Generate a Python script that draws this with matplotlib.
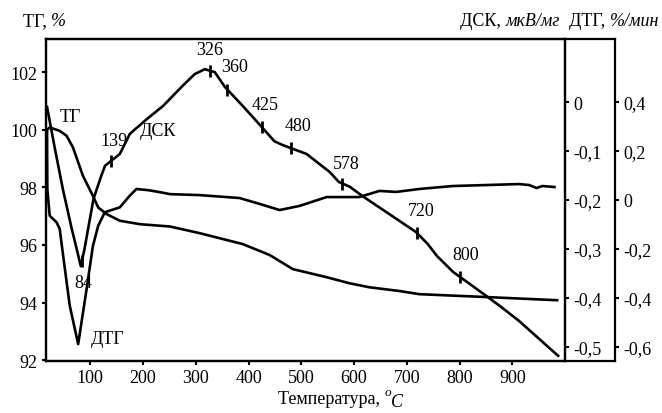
import numpy as np
import matplotlib.pyplot as plt

plt.rcParams['font.family'] = ['Liberation Serif', 'DejaVu Serif']
plt.rcParams['font.size'] = 13

# TG, %
tg_t = [18, 23, 42, 55, 67, 86, 105, 115, 131, 156, 194, 251, 307, 389, 440, 484, 548, 591, 629, 686, 724, 851, 985]
tg = [100.0, 100.08, 99.96, 99.79, 99.39, 98.40, 97.70, 97.30, 97.07, 96.84, 96.72, 96.64, 96.41, 96.03, 95.65,
      95.16, 94.88, 94.67, 94.53, 94.40, 94.29, 94.19, 94.08]

# DSC, uV/mg
dsc_t = [18, 33, 48, 64, 82, 89, 106, 121, 128, 156, 175, 207, 238, 275, 298, 317, 336, 355, 389, 415, 449,
         465, 510, 554, 571, 592, 616, 681, 717, 740, 757, 788, 819, 851, 881, 913, 987]
dsc = [-0.010, -0.096, -0.178, -0.255, -0.335, -0.300, -0.198, -0.150, -0.130, -0.106, -0.065, -0.035, -0.008,
       0.033, 0.057, 0.067, 0.061, 0.031, -0.008, -0.039, -0.080, -0.088, -0.106, -0.143, -0.163, -0.173, -0.192,
       -0.239, -0.265, -0.290, -0.314, -0.347, -0.371, -0.396, -0.420, -0.447, -0.518]

# DTG, %/min
dtg_t = [18, 18.5, 23, 36, 42, 48.5, 61, 77, 93, 105, 115, 127.5, 156, 175, 187.5, 210, 232, 251, 307, 383, 421,
         459, 497, 548, 610, 648, 680, 724, 787, 913, 932, 946, 957, 980]
dtg = [0.283, 0.045, -0.064, -0.091, -0.118, -0.227, -0.431, -0.588, -0.363, -0.187, -0.105, -0.050, -0.030,
       0.018, 0.045, 0.040, 0.032, 0.024, 0.020, 0.008, -0.016, -0.041, -0.024, 0.012, 0.012, 0.037, 0.033,
       0.045, 0.057, 0.065, 0.061, 0.049, 0.057, 0.053]

# marked temperatures on the DSC curve and label offsets (pixels)
marks = [84, 139, 326, 360, 425, 480, 578, 720, 800]
mark_dx = [1, 3, 0, 7, 3, 7, 4, 4, 6]
mark_dy = [-21, 21, 21, 23, 23, 23, 20, 23, 22]

x_ticks = [100, 200, 300, 400, 500, 600, 700, 800, 900]
tg_ticks = [92, 94, 96, 98, 100, 102]
dsc_ticks = [0, -0.1, -0.2, -0.3, -0.4, -0.5]
dtg_ticks = [0.4, 0.2, 0, -0.2, -0.4, -0.6]

W, H = 662, 414
fig = plt.figure(figsize=(W / 100, H / 100), dpi=100)
ax = fig.add_axes([46 / W, 1 - 362 / H, (565 - 46) / W, (362 - 40) / H])
ax_dsc = ax.twinx()
ax_dtg = ax.twinx()

lw = 1.9
ax.plot(tg_t, tg, color='black', lw=lw)
ax_dsc.plot(dsc_t, dsc, color='black', lw=lw)
ax_dtg.plot(dtg_t, dtg, color='black', lw=lw)

mark_v = np.interp(marks, dsc_t, dsc)
ax_dsc.plot(marks, mark_v, ls='none', marker='|', ms=9, mew=2, color='black')
for t, v, dx, dy in zip(marks, mark_v, mark_dx, mark_dy):
    ax_dsc.annotate(str(t), (t, v), xytext=(dx, dy), textcoords='offset pixels',
                    ha='center', va='center')

ax.set_xlim(16, 1000)
ax.set_ylim(91.97, 103.15)
ax_dsc.set_ylim(-0.5286, 0.1286)
ax_dtg.set_ylim(-0.657, 0.657)

ax.set_xticks(x_ticks)
ax.set_yticks(tg_ticks)
ax_dsc.set_yticks(dsc_ticks)
ax_dsc.set_yticklabels([f'{v:g}'.replace('.', ',') for v in dsc_ticks])
ax_dtg.set_yticks(dtg_ticks)
ax_dtg.set_yticklabels([f'{v:g}'.replace('.', ',') for v in dtg_ticks])

outer = (615 - 46) / (565 - 46)
ax_dtg.spines['right'].set_position(('axes', outer))
for a in (ax, ax_dsc, ax_dtg):
    for s in a.spines.values():
        s.set_linewidth(1.6)
    a.tick_params(direction='out', length=3, width=1.5, pad=3)
ax_dtg.spines['top'].set_visible(False)
ax_dtg.spines['bottom'].set_visible(False)
ax_dtg.spines['left'].set_visible(False)

# extend top and bottom of the frame to the outer axis
for yy in (0, 1):
    ax.plot([1, outer], [yy, yy], transform=ax.transAxes, color='black', lw=1.6, clip_on=False,
            solid_capstyle='projecting')

# curve names
ax.annotate('ТГ', (0, 0), xycoords='figure pixels', xytext=(60, H - 118), textcoords='figure pixels',
            ha='left', va='center')
ax.annotate('ДСК', (0, 0), xycoords='figure pixels', xytext=(158, H - 132), textcoords='figure pixels',
            ha='center', va='center')
ax.annotate('ДТГ', (0, 0), xycoords='figure pixels', xytext=(108, H - 340), textcoords='figure pixels',
            ha='center', va='center')

# axis titles
t1 = fig.text(23 / W, 1 - 22 / H, 'ТГ, ', va='center', ha='left')
ax.annotate('%', (1, 0), xycoords=t1, va='bottom', ha='left', style='italic', annotation_clip=False)

r1 = fig.text(460 / W, 1 - 21 / H, 'ДСК, ', va='center', ha='left')
r2 = ax.annotate('мкВ/мг', (1, 0), xycoords=r1, va='bottom', ha='left', style='italic', annotation_clip=False)
r3 = ax.annotate('  ДТГ, ', (1, 0), xycoords=r2, va='bottom', ha='left', annotation_clip=False)
ax.annotate('%/мин', (1, 0), xycoords=r3, va='bottom', ha='left', style='italic', annotation_clip=False)

b1 = fig.text(278 / W, 1 - 400 / H, 'Температура, ', va='center', ha='left')
b2 = ax.annotate('o', (1, 0.55), xycoords=b1, va='bottom', ha='left', style='italic', fontsize=9.5,
                 annotation_clip=False)
ax.annotate('C', (1, 0.45), xycoords=b2, va='top', ha='left', style='italic', annotation_clip=False)

fig.savefig('out.png', dpi=100)
